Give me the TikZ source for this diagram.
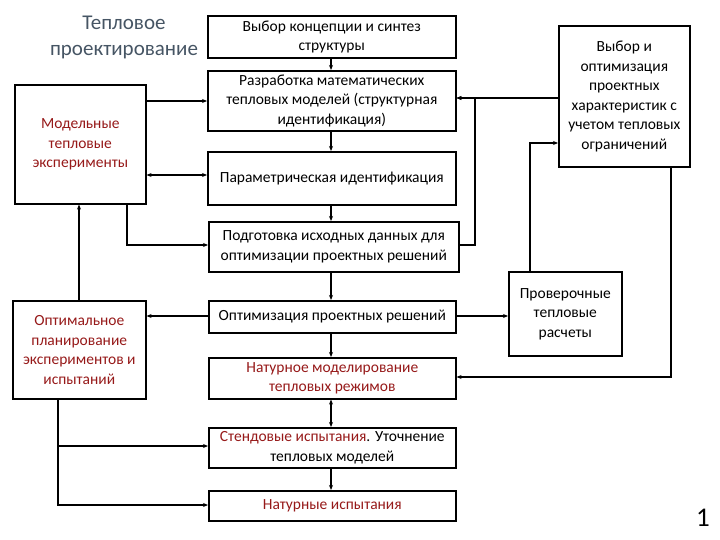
\documentclass[tikz,border=0pt]{standalone}
\usepackage{fontspec}
\setmainfont{Carlito}
\usetikzlibrary{arrows.meta}
\definecolor{dred}{RGB}{150,25,25}
\definecolor{ttl}{RGB}{70,85,100}
\begin{document}
\begin{tikzpicture}[x=1pt,y=-1pt,
  bx/.style={draw,line width=1.6pt,align=center,inner sep=1pt,font=\fontsize{15.5}{19.5}\selectfont,anchor=north west},
  ar/.style={-{Stealth[length=5pt,width=4pt]},line width=1.2pt},
  tk/.style={-{Stealth[length=5pt,width=4pt]},line width=2.2pt},
  da/.style={{Stealth[length=5pt,width=4pt]}-{Stealth[length=5pt,width=4pt]},line width=1.2pt}]
\useasboundingbox (0,0) rectangle (720,540);
\node[text=ttl,font=\fontsize{21}{26}\selectfont,align=center] (t) at (124,37) {Тепловое\\проектирование};
\node[bx,minimum width=248pt,minimum height=42pt] (b1) at (207,15) {Выбор концепции и синтез\\структуры};
\node[bx,minimum width=248pt,minimum height=60pt] (b2) at (207,70) {Разработка математических\\тепловых моделей (структурная\\идентификация)};
\node[bx,minimum width=248pt,minimum height=53pt] (b3) at (207,151) {Параметрическая идентификация};
\node[bx,minimum width=250pt,minimum height=50pt] (b4) at (208,221) {Подготовка исходных данных для\\оптимизации проектных решений};
\node[bx,minimum width=247pt,minimum height=32pt] (b5) at (208,300) {Оптимизация проектных решений};
\node[bx,minimum width=247pt,minimum height=41pt,text=dred] (b6) at (208,357) {Натурное моделирование\\тепловых режимов};
\node[bx,minimum width=247pt,minimum height=40pt] (b7) at (208,427) {\textcolor{dred}{Стендовые испытания}. Уточнение\\тепловых моделей};
\node[bx,minimum width=247pt,minimum height=30pt,text=dred] (b8) at (208,490) {Натурные испытания};
\node[bx,minimum width=131pt,minimum height=119pt,text=dred] (l1) at (14,84) {Модельные\\тепловые\\эксперименты};
\node[bx,minimum width=133pt,minimum height=98pt,text=dred] (l2) at (12,300) {Оптимальное\\планирование\\экспериментов и\\испытаний};
\node[bx,minimum width=131pt,minimum height=141pt] (r1) at (558,25) {Выбор и\\оптимизация\\проектных\\характеристик с\\учетом тепловых\\ограничений};
\node[bx,minimum width=113pt,minimum height=84pt] (r2) at (508,271) {Проверочные\\тепловые\\расчеты};
\node[font=\fontsize{27}{30}\selectfont] (n1) at (703,518) {1};
\draw[ar] (b1.south -| 331,0) -- (b2.north -| 331,0);
\draw[ar] (b2.south -| 331,0) -- (b3.north -| 331,0);
\draw[ar] (b3.south -| 331,0) -- (b4.north -| 331,0);
\draw[tk] (b4.south -| 331,0) -- (b5.north -| 331,0);
\draw[ar] (b5.south -| 331,0) -- (b6.north -| 331,0);
\draw[da] (b6.south -| 331,0) -- (b7.north -| 331,0);
\draw[tk] (b7.south -| 331,0) -- (b8.north -| 331,0);
\draw[tk] (l1.east |- 0,101) -- (b2.west |- 0,101);
\draw[da] (l1.east |- 0,175) -- (b3.west |- 0,175);
\draw[ar] (l1.south -| 127,0) |- (b4.west |- 0,245);
\draw[ar] (l2.north -| 79,0) -- (l1.south -| 79,0);
\draw[tk] (b5.west |- 0,316) -- (l2.east |- 0,316);
\draw[tk] (b4.east |- 0,245) -| (475,98) -- (b2.east |- 0,98);
\draw[tk] (r1.west |- 0,98) -- (b2.east |- 0,98);
\draw[tk] (b5.east |- 0,316) -- (r2.west |- 0,316);
\draw[tk] (r2.north -| 530,0) |- (r1.west |- 0,143);
\draw[ar] (r1.south -| 671,0) |- (b6.east |- 0,377);
\draw[ar] (l2.south -| 58,0) |- (b7.west |- 0,446);
\draw[ar] (58,446) |- (b8.west |- 0,505);
\end{tikzpicture}
\end{document}
